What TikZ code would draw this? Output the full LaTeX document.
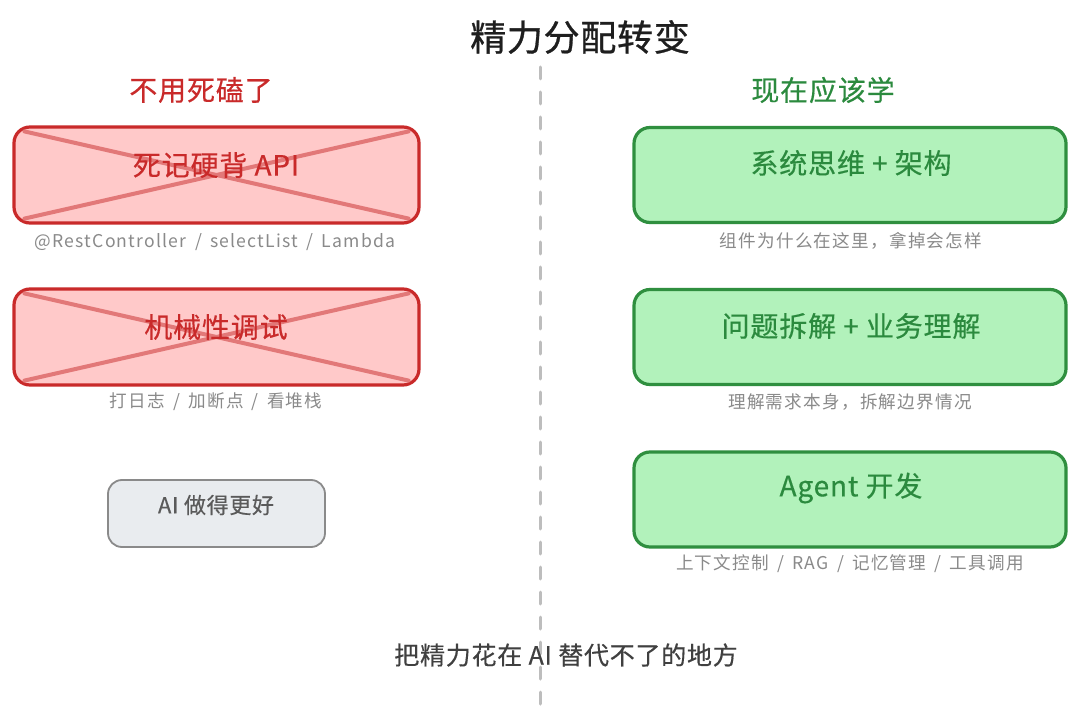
\documentclass[tikz,border=0pt]{standalone}
\usepackage{fontspec}
\setmainfont{Noto Sans CJK SC}
\newfontfamily\subfnt{Noto Sans CJK SC}[LetterSpace=7,WordSpace=1.6]
\newfontfamily\boxfnt{Noto Sans CJK SC}[LetterSpace=3,FakeBold=0.4]
\newfontfamily\titfnt{Noto Sans CJK SC}[LetterSpace=2,FakeBold=0.8]
\usetikzlibrary{calc}
\definecolor{redS}{HTML}{C92A2A}
\definecolor{redF}{HTML}{FFC9C9}
\definecolor{redX}{HTML}{E27878}
\definecolor{redT}{HTML}{C92A2A}
\definecolor{grnS}{HTML}{2F8F3F}
\definecolor{grnF}{HTML}{B2F2BB}
\definecolor{grnT}{HTML}{2B8A3E}
\definecolor{gryS}{HTML}{8A8A8A}
\definecolor{gryF}{HTML}{E9ECEF}
\definecolor{gryT}{HTML}{5A5A5A}
\definecolor{subT}{HTML}{8A8A8A}
\definecolor{divC}{HTML}{BDBDBD}
\definecolor{titT}{HTML}{1E1E1E}
\tikzset{
  redbox/.style={draw=redS, fill=redF, line width=1.6pt, rounded corners=8pt, minimum width=202.5pt, minimum height=48pt, inner sep=0pt},
  grnbox/.style={draw=grnS, fill=grnF, line width=1.6pt, rounded corners=8pt, minimum width=216pt, minimum height=47.5pt, inner sep=0pt},
  grybox/.style={draw=gryS, fill=gryF, line width=0.9pt, rounded corners=7pt, minimum width=108.5pt, minimum height=33.5pt, inner sep=0pt},
  crossline/.style={draw=redX, line width=2pt, line cap=round},
  boxtxt/.style={font=\boxfnt\fontsize{14}{17}\selectfont, inner sep=0pt},
  subtxt/.style={font=\subfnt\fontsize{8.8}{11}\selectfont, text=subT, inner sep=0pt},
  headtxt/.style={font=\boxfnt\fontsize{14}{17}\selectfont, inner sep=0pt},
}
\begin{document}
\begin{tikzpicture}[x=0.5pt,y=-0.5pt]
\useasboundingbox (0,0) rectangle (1080,716);
\fill[white] (0,0) rectangle (1080,716);

% divider
\coordinate (dtop) at (540,67);
\coordinate (dbot) at (540,705);
\draw[divC, line width=1.5pt, dash pattern=on 6pt off 6.5pt, line cap=round] (dtop) -- (dbot);

% title
\node[font=\titfnt\fontsize{18}{21}\selectfont, text=titT, inner sep=0pt] (title) at (580,37) {精力分配转变};

% headers
\node[headtxt, text=redT] (hl) at (201,90) {不用死磕了};
\node[headtxt, text=grnT] (hr) at (823,90) {现在应该学};

% left column
\node[redbox] (b1) at (216.5,175) {};
\draw[crossline] ($(b1.north west)+(12,6)$) -- ($(b1.south east)+(-12,-6)$);
\draw[crossline] ($(b1.south west)+(12,-6)$) -- ($(b1.north east)+(-12,6)$);
\node[boxtxt, text=redT] (t1) at (216,165) {死记硬背 API};
\node[subtxt] (s1) at (215,242) {@RestController / selectList / Lambda};

\node[redbox] (b2) at (216.5,337) {};
\draw[crossline] ($(b2.north west)+(12,6)$) -- ($(b2.south east)+(-12,-6)$);
\draw[crossline] ($(b2.south west)+(12,-6)$) -- ($(b2.north east)+(-12,6)$);
\node[boxtxt, text=redT] (t2) at (216,327) {机械性调试};
\node[subtxt] (s2) at (216,402) {打日志 / 加断点 / 看堆栈};

\node[grybox] (b3) at (216.5,513.5) {};
\node[font=\boxfnt\fontsize{11}{13}\selectfont, text=gryT, inner sep=0pt] (t3) at (216,505) {AI 做得更好};

% right column
\node[grnbox] (g1) at (850,175) {};
\node[boxtxt, text=grnT] (u1) at (851,163) {系统思维 + 架构};
\node[subtxt] (v1) at (851,241) {组件为什么在这里，拿掉会怎样};

\node[grnbox] (g2) at (850,337) {};
\node[boxtxt, text=grnT] (u2) at (851,326) {问题拆解 + 业务理解};
\node[subtxt] (v2) at (850,402) {理解需求本身，拆解边界情况};

\node[grnbox] (g3) at (850,499.5) {};
\node[boxtxt, text=grnT] (u3) at (851,488) {Agent 开发};
\node[subtxt] (v3) at (850,564) {上下文控制 / RAG / 记忆管理 / 工具调用};

% bottom
\node[font=\boxfnt\fontsize{12.5}{15}\selectfont, text=titT!85, inner sep=0pt] (foot) at (566,655) {把精力花在 AI 替代不了的地方};
\end{tikzpicture}
\end{document}
